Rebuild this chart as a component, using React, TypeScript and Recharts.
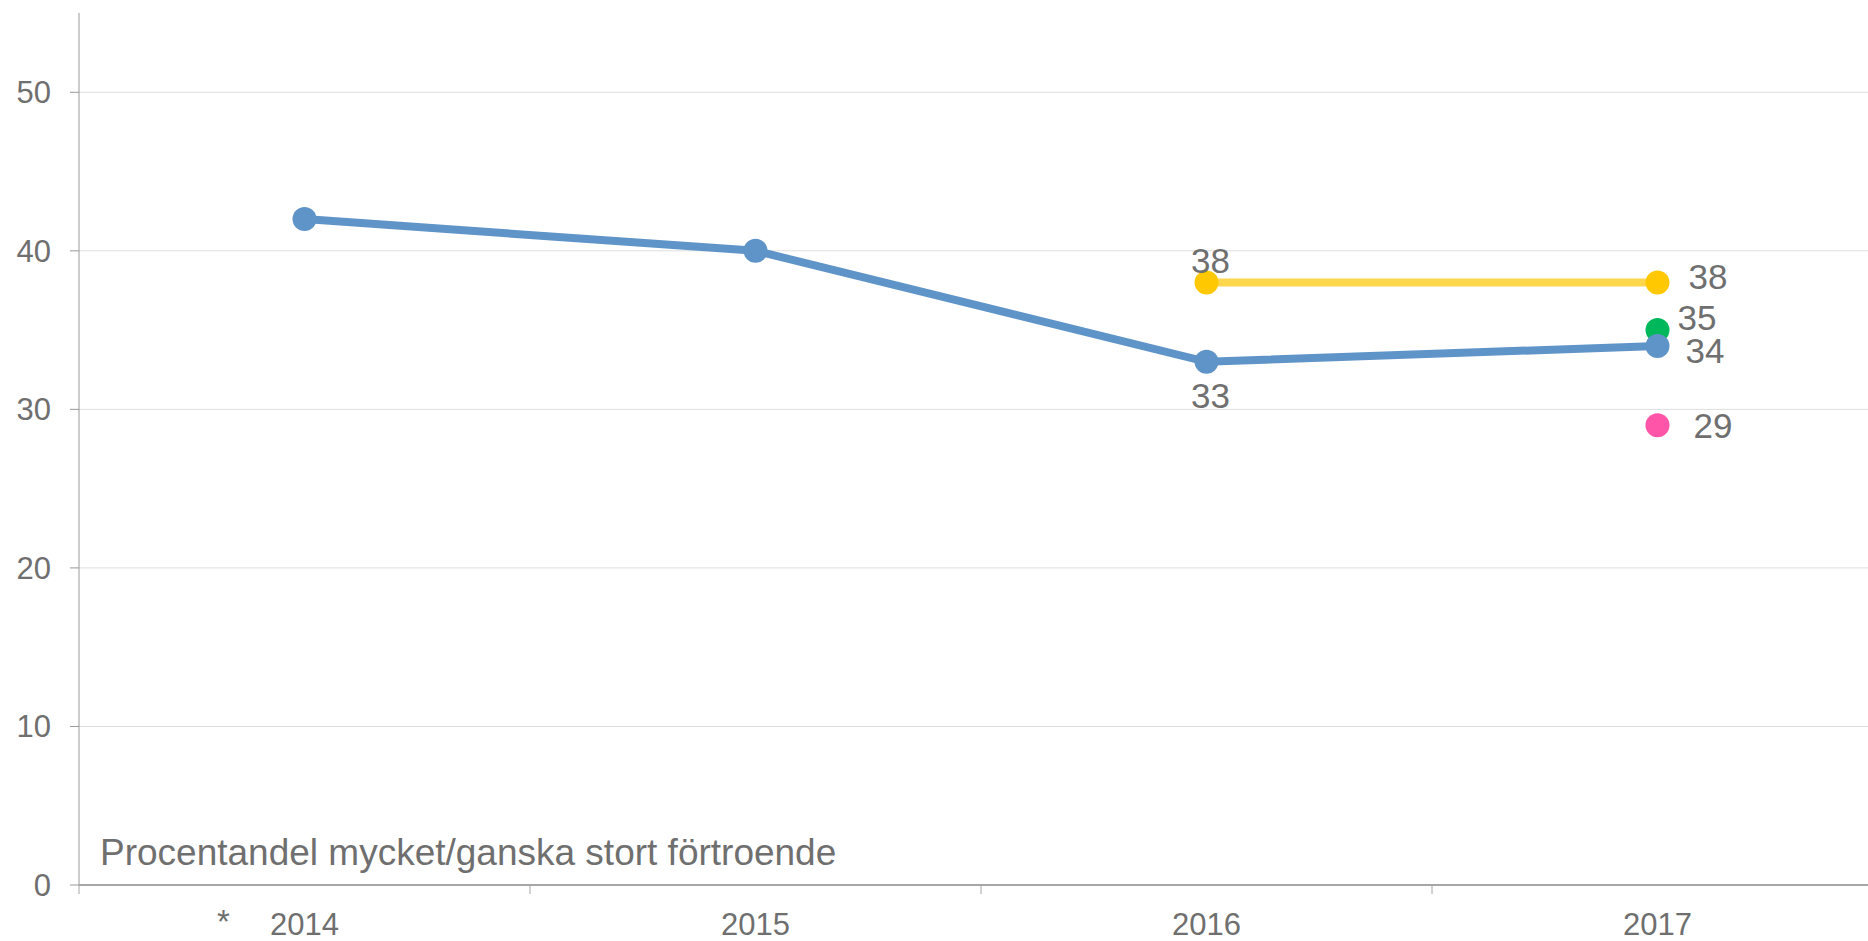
import {
  LineChart,
  Line,
  CartesianGrid,
  XAxis,
  YAxis,
  LabelList,
} from "recharts";

const FONT = "'Liberation Sans', Arial, sans-serif";
const TEXT = "#6f6f6f";

const years = ["2014", "2015", "2016", "2017"];
const footnotes = ["*", "", "", ""];
const yTicks = [0, 10, 20, 30, 40, 50];

// serier (null = inget värde det året)
const blueValues = [42, 40, 33, 34];
const yellowValues = [null, null, 38, 38];
const greenValues = [null, null, null, 35];
const pinkValues = [null, null, null, 29];

const TITLE = "Procentandel mycket/ganska stort förtroende";

type Placement = { dx: number; dy: number; anchor: "start" | "middle" } | null;

// var etiketterna hamnar relativt punkten
const blueLabels: Placement[] = [
  null,
  null,
  { dx: 4, dy: 46, anchor: "middle" },
  { dx: 28, dy: 17, anchor: "start" },
];
const yellowLabels: Placement[] = [
  null,
  null,
  { dx: 4, dy: -10, anchor: "middle" },
  { dx: 31, dy: 6, anchor: "start" },
];
const greenLabels: Placement[] = [null, null, null, { dx: 20, dy: 0, anchor: "start" }];
const pinkLabels: Placement[] = [null, null, null, { dx: 36, dy: 13, anchor: "start" }];

const data = years.map((year, i) => ({
  x: i,
  year,
  blue: blueValues[i],
  yellow: yellowValues[i],
  green: greenValues[i],
  pink: pinkValues[i],
}));

const xTicks = years
  .flatMap((_, i) => [i - 0.5, i])
  .concat(years.length - 0.5);

function YearTick(props: any) {
  const { x, y, payload } = props;
  const v = payload.value as number;
  if (Number.isInteger(v)) {
    return (
      <g>
        {footnotes[v] ? (
          <text
            x={x - 81}
            y={y + 48}
            textAnchor="middle"
            fontSize={33}
            fontFamily={FONT}
            fill={TEXT}
          >
            {footnotes[v]}
          </text>
        ) : null}
        <text
          x={x}
          y={y + 50}
          textAnchor="middle"
          fontSize={31}
          fontFamily={FONT}
          fill={TEXT}
        >
          {years[v]}
        </text>
      </g>
    );
  }
  return <line x1={x} x2={x} y1={y} y2={y + 9} stroke="#a6a6a6" strokeWidth={1} />;
}

function makeDot(color: string) {
  return (props: any) => {
    const { cx, cy, index, value } = props;
    if (cy == null || value == null) return <g key={`d-${color}-${index}`} />;
    return <circle key={`d-${color}-${index}`} cx={cx} cy={cy} r={12} fill={color} />;
  };
}

function makeLabel(placements: Placement[]) {
  return (props: any) => {
    const vb = props.viewBox || {};
    const x = vb.x ?? props.x;
    const y = vb.y ?? props.y;
    const p = placements[props.index];
    if (!p || props.value == null || x == null || y == null) return null;
    return (
      <text
        x={x + p.dx}
        y={y + p.dy}
        textAnchor={p.anchor}
        fontSize={35}
        fontFamily={FONT}
        fill={TEXT}
      >
        {props.value}
      </text>
    );
  };
}

export default function App() {
  return (
    <div
      style={{
        position: "fixed",
        left: 0,
        top: 0,
        width: 1868,
        height: 941,
        overflow: "hidden",
        background: "white",
      }}
    >
      <LineChart
        width={1883}
        height={941}
        data={data}
        margin={{ top: 13, right: 0, left: 0, bottom: 0 }}
      >
        <CartesianGrid
          vertical={false}
          horizontalValues={yTicks}
          stroke="#dedede"
          strokeWidth={1}
        />
        <XAxis
          type="number"
          dataKey="x"
          domain={[-0.5, years.length - 0.5]}
          ticks={xTicks}
          interval={0}
          tickLine={false}
          tickSize={0}
          tickMargin={0}
          height={56}
          axisLine={{ stroke: "#a6a6a6", strokeWidth: 2 }}
          tick={<YearTick />}
        />
        <YAxis
          domain={[0, 55]}
          ticks={yTicks}
          width={79}
          tickSize={9}
          tickMargin={19}
          axisLine={{ stroke: "#999999", strokeWidth: 1 }}
          tickLine={{ stroke: "#999999", strokeWidth: 1 }}
          tick={{ fontSize: 31, fontFamily: FONT, fill: TEXT }}
        />

        <Line
          dataKey="yellow"
          stroke="#ffd74d"
          strokeWidth={8}
          dot={makeDot("#ffc800")}
          activeDot={false}
          isAnimationActive={false}
        >
          <LabelList dataKey="yellow" content={makeLabel(yellowLabels)} />
        </Line>
        <Line
          dataKey="green"
          stroke="none"
          strokeWidth={0}
          dot={makeDot("#00b85c")}
          activeDot={false}
          isAnimationActive={false}
        >
          <LabelList dataKey="green" content={makeLabel(greenLabels)} />
        </Line>
        <Line
          dataKey="pink"
          stroke="none"
          strokeWidth={0}
          dot={makeDot("#ff55a8")}
          activeDot={false}
          isAnimationActive={false}
        >
          <LabelList dataKey="pink" content={makeLabel(pinkLabels)} />
        </Line>
        <Line
          dataKey="blue"
          stroke="#5f94c8"
          strokeWidth={8}
          dot={makeDot("#5f94c8")}
          activeDot={false}
          isAnimationActive={false}
        >
          <LabelList dataKey="blue" content={makeLabel(blueLabels)} />
        </Line>
      </LineChart>

      <div
        style={{
          position: "absolute",
          left: 100,
          top: 834,
          fontSize: 37,
          lineHeight: "37px",
          fontFamily: FONT,
          color: TEXT,
          whiteSpace: "nowrap",
        }}
      >
        {TITLE}
      </div>
    </div>
  );
}
